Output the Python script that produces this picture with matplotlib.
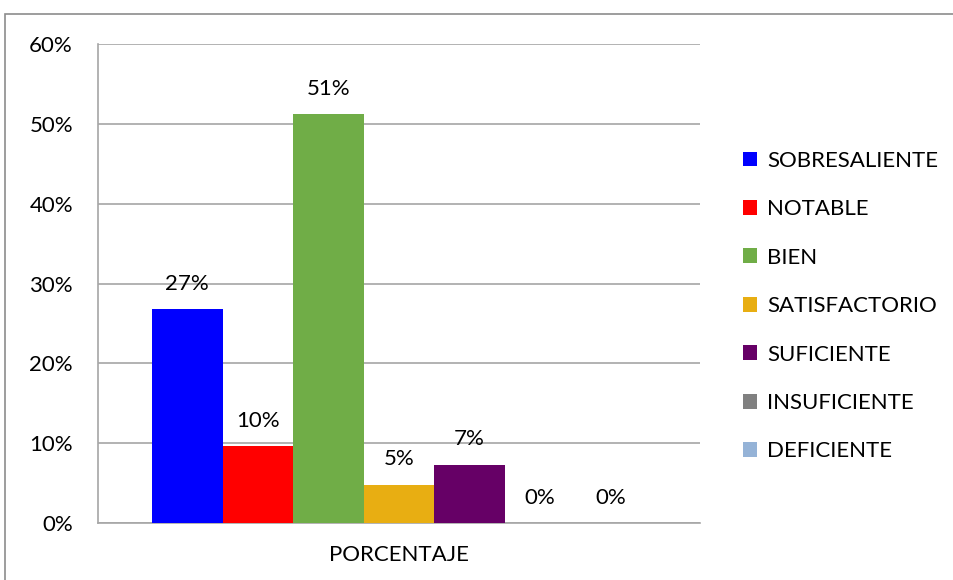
import matplotlib
matplotlib.use("Agg")
import matplotlib.pyplot as plt
from matplotlib.patches import Rectangle

categories = ["SOBRESALIENTE", "NOTABLE", "BIEN", "SATISFACTORIO", "SUFICIENTE", "INSUFICIENTE", "DEFICIENTE"]
values = [26.8, 9.6, 51.2, 4.8, 7.3, 0.0, 0.0]
labels = ["27%", "10%", "51%", "5%", "7%", "0%", "0%"]
colors = ["#0000FF", "#FF0000", "#70AD47", "#E8AE12", "#660066", "#808080", "#95B3D7"]
xlabel = "PORCENTAJE"
yticks = [0, 10, 20, 30, 40, 50, 60]

plt.rcParams['font.family'] = ['Lato', 'DejaVu Sans']
FS = 16

fig = plt.figure(figsize=(9.54, 5.8), dpi=100)
# outer frame
fig.patches.append(Rectangle((5/954, -0.1), 1.2, (580-14)/580 + 0.1, transform=fig.transFigure,
                             fill=False, edgecolor="#8C8C8C", linewidth=1.2, zorder=0))

ax = fig.add_axes([98/954, (580-523)/580, 602/954, 479/580])
handles = []
for i, (v, c, lab, lb) in enumerate(zip(values, colors, categories, labels)):
    b = ax.bar(i, v, width=1.0, color=c, label=lab, zorder=3)
    handles.append(b)
    ax.annotate(lb, (i, v), xytext=(0, 11), textcoords="offset points",
                ha="center", va="bottom", fontsize=FS, color="#000000")

ax.set_xlim(-1.265, 7.265)
ax.set_ylim(0, 60)
ax.set_yticks(yticks)
ax.set_yticklabels([f"{t}%" for t in yticks], fontsize=FS)
ax.set_xticks([3])
ax.set_xticklabels([xlabel], fontsize=FS)
ax.tick_params(axis="x", length=0, pad=16)
ax.tick_params(axis="y", length=0, pad=18)
ax.grid(axis="y", color="#A6A6A6", linewidth=1.2, zorder=0)
for s in ["top", "right"]:
    ax.spines[s].set_visible(False)
ax.spines["left"].set_color("#A6A6A6")
ax.spines["bottom"].set_color("#A6A6A6")
ax.spines["left"].set_linewidth(1.2)
ax.spines["bottom"].set_linewidth(1.2)

leg = fig.legend(handles=handles, labels=categories, loc="upper left",
                 bbox_to_anchor=(725/954, 1 - 133/580), frameon=False, fontsize=FS,
                 handlelength=0.65, handleheight=0.65, handletextpad=0.45,
                 labelspacing=1.28, borderpad=0.3)

fig.savefig("out.png", dpi=100)
